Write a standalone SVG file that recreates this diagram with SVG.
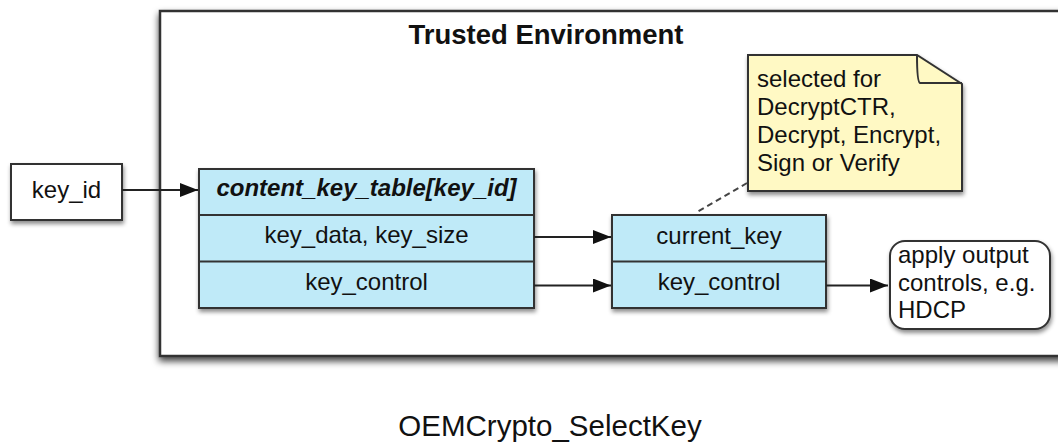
<svg xmlns="http://www.w3.org/2000/svg" width="1058" height="442" viewBox="0 0 1058 442">
  <defs>
    <style>
      text { font-family: "Liberation Sans", Arial, sans-serif; fill: #111; }
      .t24 { font-size: 24px; }
      .mid { text-anchor: middle; }
      .box { stroke: #333; stroke-width: 2; }
      .tbl { fill: #bfeaf8; stroke: #333; stroke-width: 2; }
      .conn { stroke: #222; stroke-width: 2; fill: none; }
    </style>
    <filter id="shadow" x="-10%" y="-10%" width="125%" height="140%">
      <feDropShadow dx="1" dy="3" stdDeviation="2" flood-color="#000" flood-opacity="0.45"/>
    </filter>
    <filter id="shadowBig" x="-5%" y="-5%" width="115%" height="115%">
      <feDropShadow dx="0" dy="4" stdDeviation="3.5" flood-color="#000" flood-opacity="0.75"/>
    </filter>
    <marker id="arrow" markerUnits="userSpaceOnUse" markerWidth="19" markerHeight="14" refX="18" refY="7" orient="auto">
      <path d="M0,0 L18,7 L0,14 Z" fill="#111"/>
    </marker>
  </defs>
  <rect width="1058" height="442" fill="#ffffff"/>

  <g id="trusted-environment">
    <rect x="160" y="11" width="920" height="345" fill="#ffffff" stroke="#333" stroke-width="2.5" filter="url(#shadowBig)"/>
    <text x="546" y="43.5" class="mid" style="font-size:27.5px;font-weight:bold">Trusted Environment</text>
  </g>

  <g id="key-id">
    <rect x="11" y="164" width="111" height="56" fill="#ffffff" class="box" filter="url(#shadow)"/>
    <text x="66.5" y="198" class="t24 mid">key_id</text>
  </g>

  <g id="content-key-table">
    <g filter="url(#shadow)">
      <rect x="199" y="169" width="335" height="139" class="tbl"/>
    </g>
    <line x1="199" y1="215" x2="534" y2="215" class="box"/>
    <line x1="199" y1="261.5" x2="534" y2="261.5" class="box"/>
    <text x="366.5" y="196" class="t24 mid" style="font-weight:bold;font-style:italic">content_key_table[key_id]</text>
    <text x="366.5" y="243" class="t24 mid">key_data, key_size</text>
    <text x="366.5" y="290" class="t24 mid">key_control</text>
  </g>

  <g id="current-key-table">
    <g filter="url(#shadow)">
      <rect x="612" y="215" width="214" height="93" class="tbl"/>
    </g>
    <line x1="612" y1="261.5" x2="826" y2="261.5" class="box"/>
    <text x="719" y="243.5" class="t24 mid">current_key</text>
    <text x="719" y="290" class="t24 mid">key_control</text>
  </g>

  <g id="note">
    <g filter="url(#shadow)">
      <path d="M748,55 H917 L962,84 V191 H748 Z" fill="#fff9c4" stroke="#333" stroke-width="2"/>
    </g>
    <path d="M917,55 Q917,82 920,83 H962" fill="none" stroke="#333" stroke-width="2"/>
    <text x="757" y="87" class="t24">selected for</text>
    <text x="757" y="115" class="t24">DecryptCTR,</text>
    <text x="757" y="143" class="t24">Decrypt, Encrypt,</text>
    <text x="757" y="171" class="t24">Sign or Verify</text>
  </g>

  <g id="output-controls">
    <rect x="890" y="241" width="160" height="88" rx="15" ry="15" fill="#ffffff" class="box" filter="url(#shadow)"/>
    <text x="898" y="263" class="t24">apply output</text>
    <text x="898" y="291" class="t24">controls, e.g.</text>
    <text x="898" y="318" class="t24">HDCP</text>
  </g>

  <g id="connectors">
    <line x1="122" y1="190" x2="198" y2="190" class="conn" marker-end="url(#arrow)"/>
    <line x1="534" y1="237" x2="611" y2="237" class="conn" marker-end="url(#arrow)"/>
    <line x1="534" y1="285.5" x2="611" y2="285.5" class="conn" marker-end="url(#arrow)"/>
    <line x1="826" y1="285.5" x2="888" y2="285.5" class="conn" marker-end="url(#arrow)"/>
    <line x1="747" y1="183" x2="697" y2="212" stroke="#444" stroke-width="2" stroke-dasharray="6,4"/>
  </g>

  <g id="caption">
    <text x="550" y="436" class="mid" style="font-size:29.5px">OEMCrypto_SelectKey</text>
  </g>
</svg>
